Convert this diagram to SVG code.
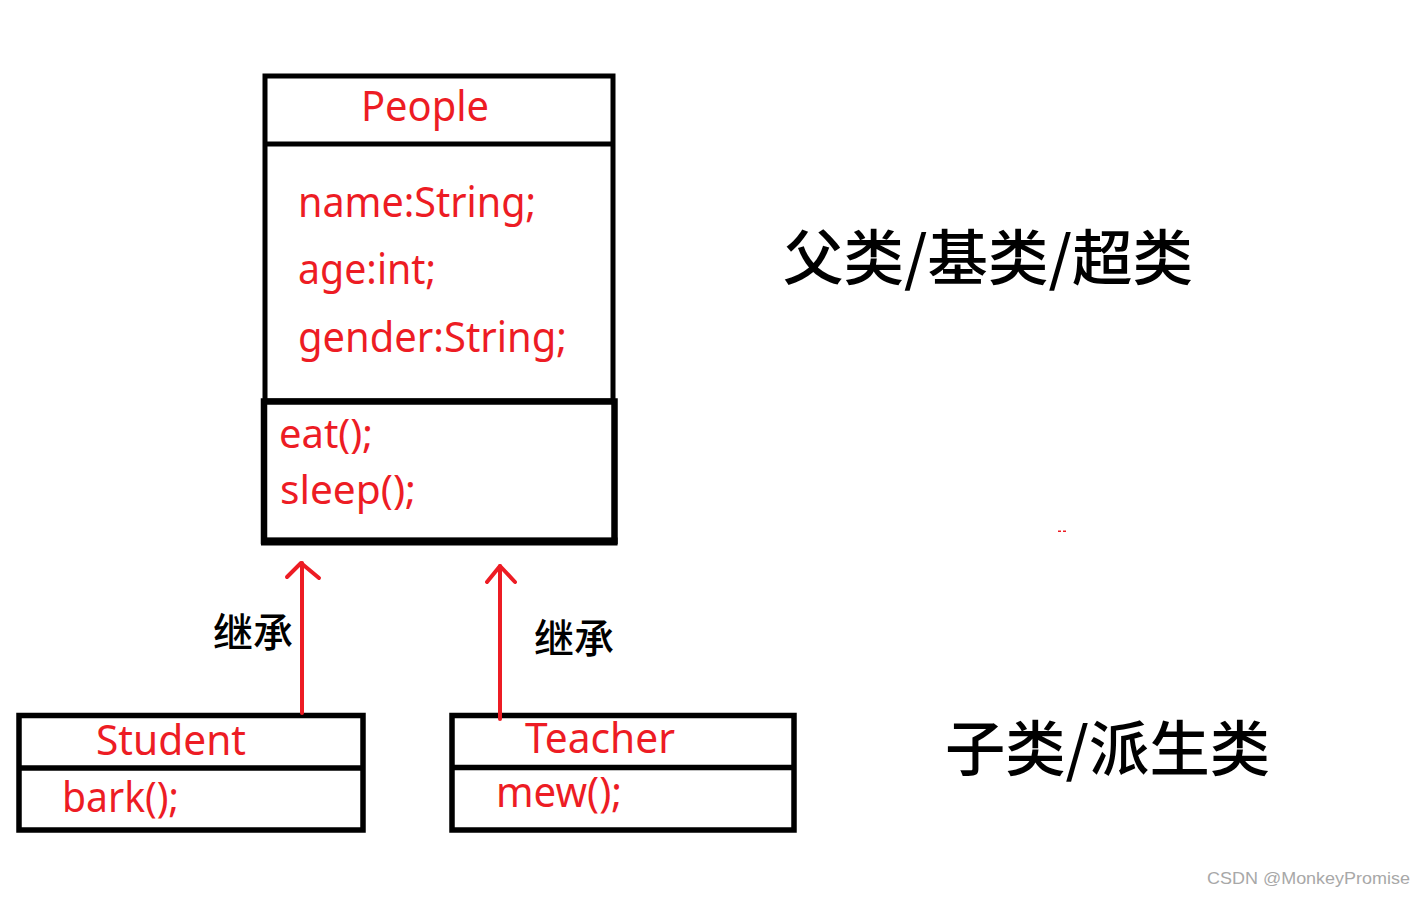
<svg xmlns="http://www.w3.org/2000/svg" width="1425" height="897" viewBox="0 0 1425 897">
<style>
.box{fill:none;stroke:#000;}
.t{font-family:"Noto Sans","Open Sans","Liberation Sans",sans-serif;fill:#ed1c24;}
.cj{font-family:"Noto Sans CJK SC","Noto Sans",sans-serif;fill:#000;font-weight:500;}
.arr{fill:none;stroke:#ed1c24;stroke-width:4;stroke-linecap:round;stroke-linejoin:round;}
</style>
<rect width="1425" height="897" fill="#fff"/>
<g id="people">
<rect class="box" x="265" y="76" width="348" height="325" stroke-width="5"/>
<line class="box" x1="265" y1="144" x2="613" y2="144" stroke-width="5"/>
<rect class="box" x="264" y="401.5" width="350.5" height="139.5" stroke-width="6.5"/>
<line class="box" x1="261" y1="541.5" x2="617.5" y2="541.5" stroke-width="8"/>
<text class="t" x="361" y="121" font-size="42" textLength="128" lengthAdjust="spacingAndGlyphs">People</text>
<text class="t" x="298" y="217" font-size="42" textLength="238" lengthAdjust="spacingAndGlyphs">name:String;</text>
<text class="t" x="298" y="284" font-size="42" textLength="138" lengthAdjust="spacingAndGlyphs">age:int;</text>
<text class="t" x="298" y="352" font-size="42" textLength="269" lengthAdjust="spacingAndGlyphs">gender:String;</text>
<text class="t" x="279" y="448" font-size="40" textLength="94" lengthAdjust="spacingAndGlyphs">eat();</text>
<text class="t" x="280" y="504" font-size="40" textLength="136" lengthAdjust="spacingAndGlyphs">sleep();</text>
</g>
<g id="student">
<rect class="box" x="19" y="715.5" width="344" height="114.5" stroke-width="5.5"/>
<line class="box" x1="19" y1="768" x2="363" y2="768" stroke-width="5.5"/>
<text class="t" x="96" y="755" font-size="42" textLength="150" lengthAdjust="spacingAndGlyphs">Student</text>
<text class="t" x="62" y="812" font-size="42" textLength="117" lengthAdjust="spacingAndGlyphs">bark();</text>
</g>
<g id="teacher">
<rect class="box" x="452" y="715.5" width="342" height="114.5" stroke-width="5.5"/>
<line class="box" x1="452" y1="767.5" x2="794" y2="767.5" stroke-width="5.5"/>
<text class="t" x="525" y="753" font-size="42" textLength="150" lengthAdjust="spacingAndGlyphs">Teacher</text>
<text class="t" x="496" y="807" font-size="42" textLength="126" lengthAdjust="spacingAndGlyphs">mew();</text>
</g>
<g id="connectors">
<line class="arr" x1="302" y1="713" x2="302" y2="563"/>
<polyline class="arr" points="287,577 301,563 319,578"/>
<line class="arr" x1="500" y1="719" x2="500" y2="566"/>
<polyline class="arr" points="487,582 500,566 515,582"/>
</g>
<g id="labels">
<text class="cj" x="213" y="647" font-size="40" textLength="80" lengthAdjust="spacingAndGlyphs">继承</text>
<text class="cj" x="534" y="653" font-size="40" textLength="80" lengthAdjust="spacingAndGlyphs">继承</text>
<text class="cj" x="783" y="280" font-size="60" textLength="410" lengthAdjust="spacingAndGlyphs">父类/基类/超类</text>
<text class="cj" x="945" y="771" font-size="60" textLength="325" lengthAdjust="spacingAndGlyphs">子类/派生类</text>
<rect x="1058" y="530.5" width="3" height="1.5" fill="#ed1c24"/>
<rect x="1063" y="530.5" width="3" height="1.5" fill="#ed1c24"/>
<text x="1207" y="884" font-family="'Liberation Sans',Arial,sans-serif" font-size="17" fill="#a8a8a8" textLength="203" lengthAdjust="spacingAndGlyphs">CSDN @MonkeyPromise</text>
</g>
</svg>
